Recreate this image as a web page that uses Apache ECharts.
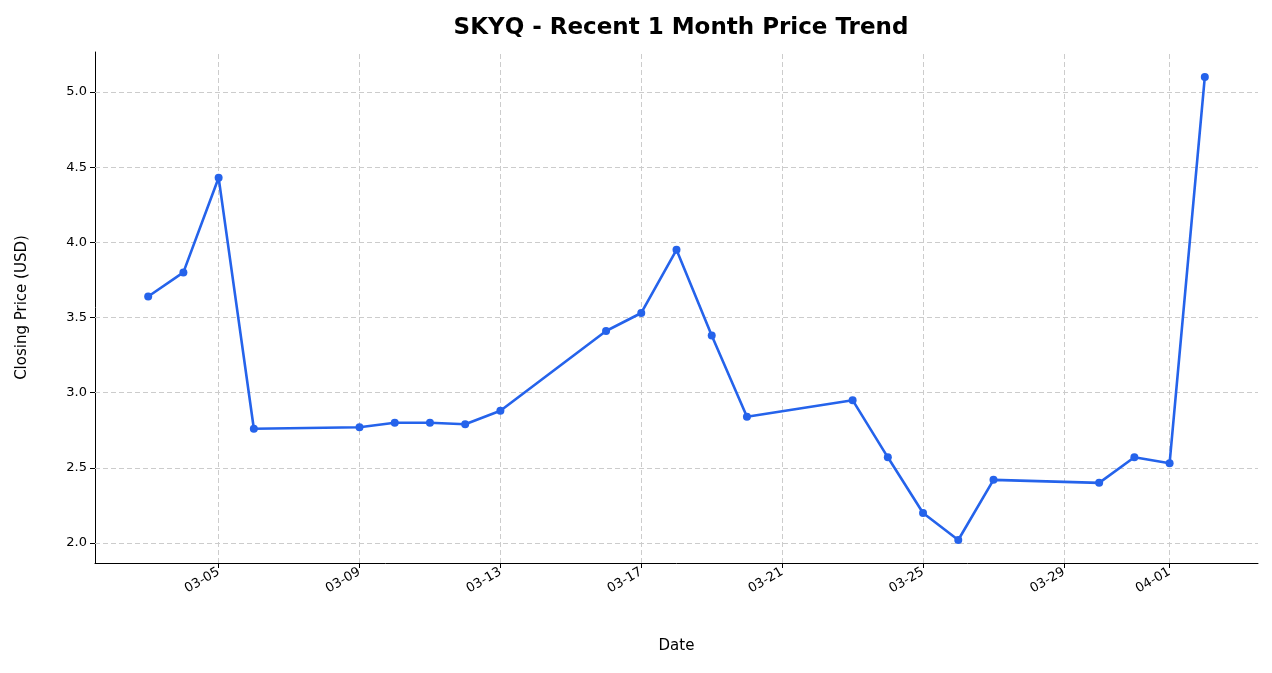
<!DOCTYPE html>
<html>
<head>
    <meta charset="utf-8" />
    <script src="https://cdn.jsdelivr.net/npm/echarts@6/dist/echarts.min.js"></script>
    <style type="text/css">
    body { margin: 0; background: #fff; }
    #chart { width: 1272px; height: 673px; }
    </style>
</head>
<body>
    <div id="chart"></div>
    <script type="text/javascript">
    let dates = ['2026-03-03','2026-03-04','2026-03-05','2026-03-06','2026-03-09','2026-03-10','2026-03-11','2026-03-12','2026-03-13',
        '2026-03-16','2026-03-17','2026-03-18','2026-03-19','2026-03-20','2026-03-23','2026-03-24','2026-03-25','2026-03-26',
        '2026-03-27','2026-03-30','2026-03-31','2026-04-01','2026-04-02'];
    let prices = [3.64, 3.80, 4.43, 2.76, 2.77, 2.80, 2.80, 2.79, 2.88,
        3.41, 3.53, 3.95, 3.38, 2.84, 2.95, 2.57, 2.20, 2.02,
        2.42, 2.40, 2.57, 2.53, 5.10];
    let xTicks = ['2026-03-05','2026-03-09','2026-03-13','2026-03-17','2026-03-21','2026-03-25','2026-03-29','2026-04-01'];
    let yTicks = [2.0, 2.5, 3.0, 3.5, 4.0, 4.5, 5.0];

    // days since 2026-03-01 as x value
    const DAY = 86400000, BASE = Date.UTC(2026, 2, 1);
    function dayNum(d) { let p = d.split('-'); return (Date.UTC(+p[0], +p[1] - 1, +p[2]) - BASE) / DAY; }
    function fmt(v) {
        let dt = new Date(BASE + Math.round(v) * DAY);
        let m = dt.getUTCMonth() + 1, dd = dt.getUTCDate();
        return (m < 10 ? '0' : '') + m + '-' + (dd < 10 ? '0' : '') + dd;
    }
    let xTickVals = xTicks.map(dayNum);
    let gridStyle = { color: '#cccccc', type: [5, 3], width: 1 };
    let font = 'DejaVu Sans';

    let chart = echarts.init(document.getElementById('chart'));
    chart.setOption({
        animation: false,
        textStyle: { fontFamily: font },
        title: {
            text: 'SKYQ - Recent 1 Month Price Trend',
            left: 676, top: 12, textAlign: 'center',
            textStyle: { fontSize: 23, fontWeight: 'bold', color: '#000', fontFamily: font }
        },
        grid: { left: 95, right: 14, top: 52, bottom: 110 },
        xAxis: {
            type: 'value',
            min: dayNum('2026-03-03') - 1.51,
            max: dayNum('2026-04-02') + 1.51,
            name: 'Date', nameLocation: 'middle', nameGap: 76,
            nameTextStyle: { fontSize: 15, color: '#000' },
            axisLine: { onZero: false, lineStyle: { color: '#000' } },
            axisTick: { show: true, customValues: xTickVals, lineStyle: { color: '#000' }, length: 5 },
            axisLabel: {
                customValues: xTickVals, rotate: 30, fontSize: 13, color: '#000', margin: 8,
                formatter: fmt
            },
            splitLine: { show: false }
        },
        yAxis: {
            type: 'value', min: 1.867, max: 5.266,
            name: 'Closing Price (USD)', nameLocation: 'middle', nameGap: 65,
            nameTextStyle: { fontSize: 15, color: '#000' },
            axisLine: { show: true, lineStyle: { color: '#000' } },
            axisTick: { show: true, customValues: yTicks, lineStyle: { color: '#000' }, length: 5 },
            axisLabel: {
                customValues: yTicks, fontSize: 13, color: '#000',
                formatter: function (v) { return v.toFixed(1); }
            },
            splitLine: { show: false }
        },
        series: [{
            type: 'line',
            data: dates.map(function (d, i) { return [dayNum(d), prices[i]]; }),
            symbol: 'circle', symbolSize: 8,
            lineStyle: { color: '#2563eb', width: 2.6 },
            itemStyle: { color: '#2563eb' },
            z: 5,
            markLine: {
                silent: true, symbol: 'none', label: { show: false }, lineStyle: gridStyle,
                data: yTicks.map(function (v) { return { yAxis: v }; })
                    .concat(xTickVals.map(function (v) { return { xAxis: v }; }))
            }
        }]
    });
    </script>
</body>
</html>
